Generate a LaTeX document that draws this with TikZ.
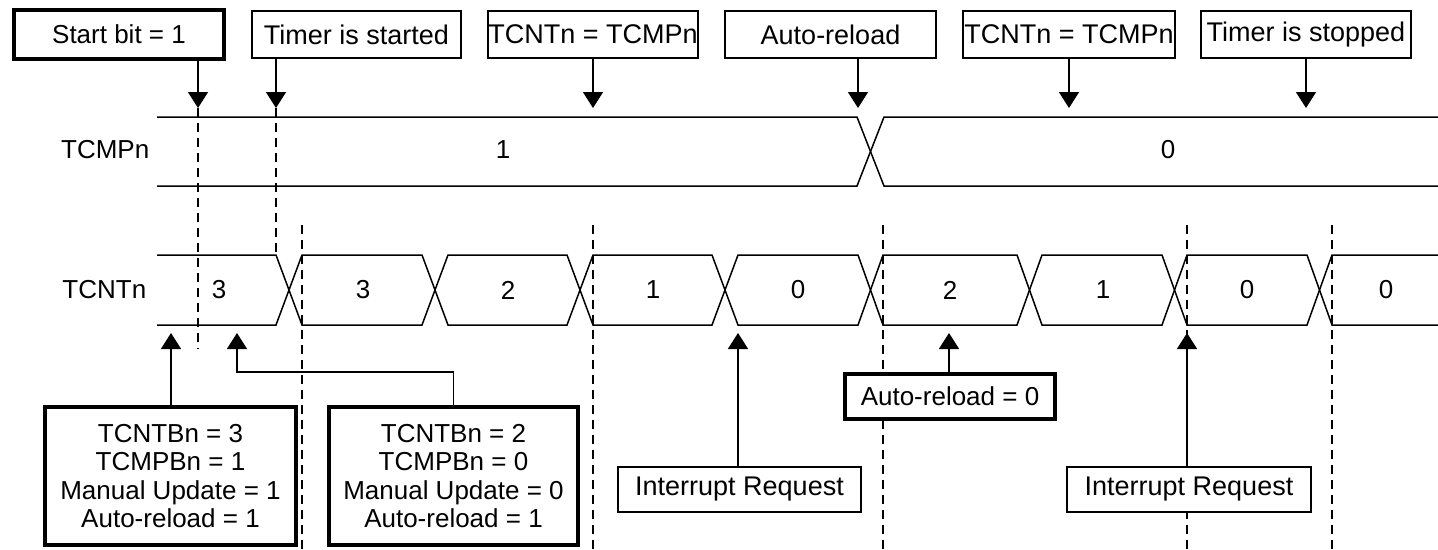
\documentclass[tikz,border=0pt]{standalone}
\usepackage{fontspec}
\setmainfont{Liberation Sans}
\usetikzlibrary{arrows.meta}
\begin{document}
\begin{tikzpicture}[x=1pt,y=-1pt,
  font=\fontsize{26}{28.3}\selectfont,
  line width=1.5pt,
  box/.style={draw, fill=white, line width=1.5pt, inner sep=0pt, align=center},
  heavybox/.style={box, line width=4pt},
  big/.style={font=\fontsize{27}{28.3}\selectfont},
  dline/.style={dash pattern=on 9pt off 6pt, line width=1.5pt},
  arr/.style={-{Triangle[width=20pt,length=16pt]}, line width=1.5pt},
  wave/.style={line width=1.5pt},
  val/.style={inner sep=0pt}
]
\useasboundingbox (0,0) rectangle (1438,549);
% dashed time markers
\draw[dline] (198,108) -- (198,349);
\draw[dline] (276,108) -- (276,255);
\draw[dline] (302,225) -- (302,549);
\draw[dline] (593,225) -- (593,549);
\draw[dline] (883,225) -- (883,549);
\draw[dline] (1187,225) -- (1187,549);
\draw[dline] (1332,225) -- (1332,549);
% TCMPn waveform
\node[val, anchor=east] (lcmp) at (150,150) {TCMPn};
\draw[wave] (157,117) -- (857,117) -- (884,186) -- (1438,186);
\draw[wave] (157,186) -- (857,186) -- (884,117) -- (1438,117);
\node[val] (c1) at (503,150) {1};
\node[val] (c0) at (1168,150) {0};
% TCNTn waveform
\node[val, anchor=east] (lcnt) at (147,290) {TCNTn};
\draw[wave] (157,255) -- (276,255) -- (302,325) -- (422,325) -- (448,255) -- (567,255) -- (593,325) -- (712,325) -- (738,255) -- (858,255) -- (883,325) -- (1017,325) -- (1042,255) -- (1162,255) -- (1187,325) -- (1307,325) -- (1332,255) -- (1438,255);
\draw[wave] (157,325) -- (276,325) -- (302,255) -- (422,255) -- (448,325) -- (567,325) -- (593,255) -- (712,255) -- (738,325) -- (858,325) -- (883,255) -- (1017,255) -- (1042,325) -- (1162,325) -- (1187,255) -- (1307,255) -- (1332,325) -- (1438,325);
\node[val] (n1) at (219,290) {3};
\node[val] (n2) at (363,290) {3};
\node[val] (n3) at (508,290) {2};
\node[val] (n4) at (653,290) {1};
\node[val] (n5) at (798,290) {0};
\node[val] (n6) at (950,290) {2};
\node[val] (n7) at (1103,290) {1};
\node[val] (n8) at (1247,290) {0};
\node[val] (n9) at (1386,290) {0};
% top boxes
\node[heavybox, minimum width=210pt, minimum height=49pt] (sb) at (119,34.5) {Start bit = 1};
\node[box, big, minimum width=209pt, minimum height=47pt] (tst) at (356.5,34.5) {Timer is started};
\node[box, big, minimum width=210pt, minimum height=47pt] (eq1) at (593,34.5) {TCNTn = TCMPn};
\node[box, big, minimum width=211pt, minimum height=47pt] (arl) at (830.5,34.5) {Auto-reload};
\node[box, big, minimum width=212pt, minimum height=47pt] (eq2) at (1069,34.5) {TCNTn = TCMPn};
\node[box, big, minimum width=210pt, minimum height=47pt] (tsp) at (1306,34.5) {Timer is stopped};
% top arrow targets
\coordinate (m1) at (198,108);
\coordinate (m2) at (276,108);
\coordinate (m3) at (593,108);
\coordinate (m4) at (858,108);
\coordinate (m5) at (1069,108);
\coordinate (m6) at (1306,108);
\draw[arr] (sb.south -| m1) -- (m1);
\draw[arr] (tst.south -| m2) -- (m2);
\draw[arr] (eq1.south -| m3) -- (m3);
\draw[arr] (arl.south -| m4) -- (m4);
\draw[arr] (eq2.south -| m5) -- (m5);
\draw[arr] (tsp.south -| m6) -- (m6);
% bottom boxes
\node[heavybox, minimum width=251pt, minimum height=138pt] (b1) at (170.5,476) {TCNTBn = 3\\TCMPBn = 1\\Manual Update = 1\\Auto-reload = 1};
\node[heavybox, minimum width=249pt, minimum height=138pt] (b2) at (453.5,476) {TCNTBn = 2\\TCMPBn = 0\\Manual Update = 0\\Auto-reload = 1};
\node[box, big, minimum width=243pt, minimum height=45pt] (ir1) at (739.5,489.5) {Interrupt Request};
\node[heavybox, minimum width=210pt, minimum height=45pt] (ar0) at (950,396.5) {Auto-reload = 0};
\node[box, big, minimum width=244pt, minimum height=45pt] (ir2) at (1189,489.5) {Interrupt Request};
% bottom arrow targets
\coordinate (u1) at (171,333);
\coordinate (u2) at (237,333);
\coordinate (k2) at (237,372);
\coordinate (u3) at (738,333);
\coordinate (u4) at (949,333);
\coordinate (u5) at (1187,333);
\draw[arr] (b1.north -| u1) -- (u1);
\draw[arr] (b2.north) |- (k2) -- (u2);
\draw[arr] (ir1.north -| u3) -- (u3);
\draw[arr] (ar0.north -| u4) -- (u4);
\draw[arr] (ir2.north -| u5) -- (u5);
\end{tikzpicture}
\end{document}
